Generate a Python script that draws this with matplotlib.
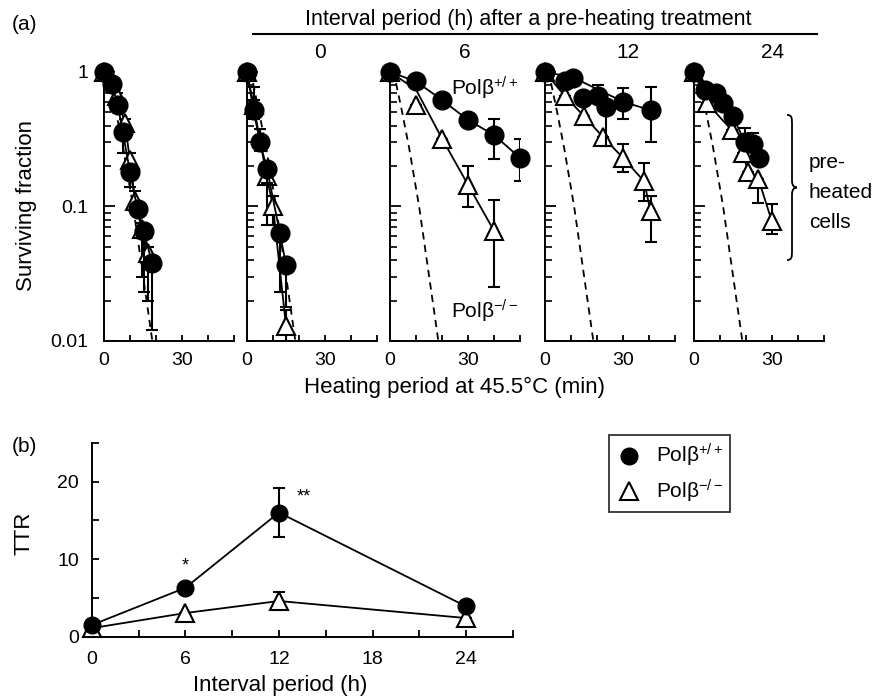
import numpy as np
import matplotlib
matplotlib.use("Agg")
import matplotlib.pyplot as plt
from matplotlib.lines import Line2D
from matplotlib.path import Path
from matplotlib.patches import PathPatch

plt.rcParams["font.family"] = ["Liberation Sans", "DejaVu Sans"]
plt.rcParams["mathtext.fontset"] = "custom"
plt.rcParams["mathtext.rm"] = "Liberation Sans"
plt.rcParams["mathtext.it"] = "Liberation Sans"
plt.rcParams["font.size"] = 14

W, H = 891, 699

# ---- panel (a): surviving fraction vs heating time (min), 5 sub-panels
panel_titles = ["", "0", "6", "12", "24"]

# Polb +/+ (filled circles)
wt_min = [
    [0, 3, 5.3, 7.2, 10, 12.9, 15.2, 18.5],
    [0, 2.5, 5, 7.7, 12.6, 15],
    [0, 10, 20, 30, 40, 50],
    [0, 7.7, 10.9, 14.7, 20.5, 23.5, 30.1, 40.6],
    [0, 4.2, 8.5, 11, 14.9, 19.6, 22.8, 25.1],
]
wt_sf = [
    [1, 0.82, 0.57, 0.36, 0.18, 0.095, 0.066, 0.038],
    [1, 0.52, 0.30, 0.19, 0.064, 0.037],
    [1, 0.85, 0.62, 0.44, 0.34, 0.23],
    [1, 0.86, 0.91, 0.645, 0.66, 0.55, 0.60, 0.52],
    [1, 0.74, 0.70, 0.59, 0.47, 0.30, 0.29, 0.23],
]
wt_lo = [
    [1, 0.82, 0.57, 0.25, 0.14, 0.095, 0.023, 0.012],
    [1, 0.45, 0.26, 0.15, 0.023, 0.018],
    [1, 0.85, 0.62, 0.44, 0.226, 0.154],
    [1, 0.86, 0.91, 0.645, 0.66, 0.28, 0.45, 0.30],
    [1, 0.74, 0.70, 0.59, 0.47, 0.30, 0.29, 0.23],
]
wt_hi = [
    [1, 0.85, 0.60, 0.40, 0.20, 0.10, 0.07, 0.04],
    [1, 0.78, 0.38, 0.21, 0.07, 0.04],
    [1, 0.85, 0.62, 0.44, 0.45, 0.32],
    [1, 0.86, 0.91, 0.645, 0.80, 0.55, 0.76, 0.78],
    [1, 0.74, 0.70, 0.59, 0.47, 0.385, 0.35, 0.23],
]

# Polb -/- (open triangles)
ko_min = [
    [0, 5, 8, 10, 12, 14.5, 17],
    [0, 2.5, 7.5, 10, 15],
    [0, 10, 20, 30, 40],
    [0, 7.7, 15, 22.2, 30, 38.1, 40.6],
    [0, 4.9, 14.5, 18.7, 20.9, 24.8, 29.9],
]
ko_sf = [
    [1, 0.66, 0.42, 0.22, 0.11, 0.068, 0.045],
    [1, 0.57, 0.17, 0.10, 0.013],
    [1, 0.57, 0.32, 0.145, 0.066],
    [1, 0.66, 0.47, 0.33, 0.23, 0.154, 0.092],
    [1, 0.59, 0.37, 0.25, 0.18, 0.16, 0.078],
]
ko_lo = [
    [1, 0.60, 0.38, 0.20, 0.10, 0.03, 0.02],
    [1, 0.50, 0.073, 0.073, 0.010],
    [1, 0.57, 0.32, 0.099, 0.025],
    [1, 0.66, 0.42, 0.30, 0.18, 0.11, 0.054],
    [1, 0.59, 0.37, 0.25, 0.18, 0.107, 0.062],
]
ko_hi = [
    [1, 0.70, 0.45, 0.25, 0.13, 0.075, 0.05],
    [1, 0.62, 0.19, 0.12, 0.017],
    [1, 0.57, 0.32, 0.199, 0.112],
    [1, 0.66, 0.47, 0.33, 0.29, 0.21, 0.12],
    [1, 0.59, 0.42, 0.30, 0.18, 0.16, 0.105],
]

# fitted lines that don't simply join the points
wt_fit = {3: ([0, 10.9, 30.1, 40.6], [1, 0.91, 0.60, 0.52])}
ko_fit = {2: ([0, 10, 20, 30, 40], [1, 0.74, 0.32, 0.145, 0.066])}

# dashed reference curve (non-preheated Polb -/-)
ctrl_min = [0, 2.3, 4.7, 7.4, 11.2, 18.6]
ctrl_sf = [1, 0.83, 0.5, 0.27, 0.1, 0.01]

# ---- panel (b): TTR vs interval period
interval_h = [0, 6, 12, 24]
ttr_wt = [1.5, 6.3, 16.0, 3.9]
ttr_wt_err = [0, 0, 3.2, 0]
ttr_ko = [1.1, 3.05, 4.6, 2.4]
ttr_ko_err = [0, 0, 1.2, 0]


def fx(px):
    return px / W


def fy(py):
    return 1 - py / H


fig = plt.figure(figsize=(W / 100, H / 100), dpi=100)

lefts = [104, 247, 390, 545, 694]
title_x = [0, 320, 465, 628, 773]
a_bottom, a_top = 341, 72

for i, left in enumerate(lefts):
    ax = fig.add_axes([fx(left), fy(a_bottom), 130 / W, (a_bottom - a_top) / H])
    ax.set_yscale("log")
    ax.set_ylim(0.01, 1.0)
    ax.set_xlim(0, 50)
    ax.spines["top"].set_visible(False)
    ax.spines["right"].set_visible(False)
    for s in ["left", "bottom"]:
        ax.spines[s].set_linewidth(1.4)
    ax.set_xticks([0, 10, 20, 30, 40, 50])
    ax.set_xticklabels(["0", "", "", "30", "", ""])
    ax.tick_params(axis="x", direction="in", length=4, width=1.3, pad=8)
    ax.tick_params(axis="y", which="major", direction="in", length=8, width=1.3, pad=11)
    ax.tick_params(axis="y", which="minor", direction="in", length=5, width=1.2)
    ax.set_yticks([0.01, 0.1, 1])
    if i == 0:
        ax.set_yticklabels(["0.01", "0.1", "1"])
    else:
        ax.set_yticklabels([])

    ax.plot(ctrl_min, ctrl_sf, color="black", lw=1.3, ls=(0, (4, 3)), zorder=2)

    # Polb -/-
    t, v = ko_min[i], ko_sf[i]
    lt, lv = ko_fit.get(i, (t, v))
    ax.plot(lt, lv, color="black", lw=1.3, zorder=3)
    yerr = [np.array(v) - np.array(ko_lo[i]), np.array(ko_hi[i]) - np.array(v)]
    ax.errorbar(t, v, yerr=yerr, fmt="none", ecolor="black", elinewidth=1.5,
                capsize=4, capthick=1.5, zorder=3)
    ax.plot(t, v, ls="none", marker="^", ms=13, mfc="white", mec="black",
            mew=1.5, zorder=4, clip_on=False)

    # Polb +/+
    t, v = wt_min[i], wt_sf[i]
    lt, lv = wt_fit.get(i, (t, v))
    ax.plot(lt, lv, color="black", lw=1.3, zorder=5)
    yerr = [np.array(v) - np.array(wt_lo[i]), np.array(wt_hi[i]) - np.array(v)]
    ax.errorbar(t, v, yerr=yerr, fmt="none", ecolor="black", elinewidth=1.5,
                capsize=4, capthick=1.5, zorder=5)
    ax.plot(t, v, ls="none", marker="o", ms=13.5, mfc="black", mec="black",
            zorder=6, clip_on=False)

    if panel_titles[i]:
        fig.text(fx(title_x[i]), fy(53), panel_titles[i], ha="center", va="center",
                 fontsize=15)

    if i == 2:
        ax.text(0.47, 0.94, "Polβ$^{+/+}$", transform=ax.transAxes,
                ha="left", va="center", fontsize=15)
        ax.text(0.47, 0.11, "Polβ$^{\u2212/\u2212}$", transform=ax.transAxes,
                ha="left", va="center", fontsize=15)

fig.text(fx(12), fy(25), "(a)", ha="left", va="center", fontsize=15)
fig.text(fx(528), fy(20), "Interval period (h) after a pre-heating treatment",
         ha="center", va="center", fontsize=15.5)
fig.add_artist(Line2D([fx(253), fx(817)], [fy(34), fy(34)], color="black",
                      lw=1.5, transform=fig.transFigure))
fig.text(fx(27), fy(205), "Surviving fraction", rotation=90, ha="center",
         va="center", fontsize=16)
fig.text(fx(455), fy(387), "Heating period at 45.5°C (min)", ha="center",
         va="center", fontsize=16)

# curly brace + label
bx, btop, bbot, bw = 787, 115, 260, 10
bmid = (btop + bbot) / 2
pts = [
    (bx, btop), (bx + bw / 2, btop), (bx + bw / 2, btop + 3), (bx + bw / 2, btop + 10),
    (bx + bw / 2, bmid - 7),
    (bx + bw / 2, bmid - 2), (bx + bw / 2 + 2, bmid), (bx + bw, bmid),
    (bx + bw / 2 + 2, bmid), (bx + bw / 2, bmid + 2), (bx + bw / 2, bmid + 7),
    (bx + bw / 2, bbot - 10),
    (bx + bw / 2, bbot - 3), (bx + bw / 2, bbot), (bx, bbot),
]
codes = [Path.MOVETO, Path.CURVE4, Path.CURVE4, Path.CURVE4, Path.LINETO,
         Path.CURVE4, Path.CURVE4, Path.CURVE4, Path.CURVE4, Path.CURVE4, Path.CURVE4,
         Path.LINETO, Path.CURVE4, Path.CURVE4, Path.CURVE4]
brace = Path([(fx(x), fy(y)) for x, y in pts], codes)
fig.add_artist(PathPatch(brace, fc="none", ec="black", lw=1.3,
                         transform=fig.transFigure))
for txt, yy in [("pre-", 162), ("heated", 193), ("cells", 223)]:
    fig.text(fx(809), fy(yy), txt, ha="left", va="center", fontsize=15)

# ---- panel (b)
axb = fig.add_axes([fx(91.7), fy(636.7), (513 - 91.7) / W, (636.7 - 442.7) / H])
axb.spines["top"].set_visible(False)
axb.spines["right"].set_visible(False)
for s in ["left", "bottom"]:
    axb.spines[s].set_linewidth(1.4)
axb.set_xlim(0, 27)
axb.set_ylim(0, 25)
axb.set_xticks(np.arange(0, 28, 3))
axb.set_xticklabels(["0", "", "6", "", "12", "", "18", "", "24", ""])
axb.set_yticks([0, 5, 10, 15, 20, 25])
axb.set_yticklabels(["0", "", "10", "", "20", ""])
axb.tick_params(axis="x", direction="in", length=5, width=1.3, pad=10)
axb.tick_params(axis="y", direction="in", length=5, width=1.3, pad=9)
fig.text(fx(24), fy(533), "TTR", rotation=90, ha="center", va="center",
         fontsize=16)
fig.text(fx(280), fy(686), "Interval period (h)", ha="center", va="center",
         fontsize=16)

axb.plot(interval_h, ttr_ko, color="black", lw=1.3, zorder=3)
axb.errorbar(interval_h, ttr_ko, yerr=ttr_ko_err, fmt="none", ecolor="black",
             elinewidth=1.5, capsize=4, capthick=1.5, zorder=3)
h_ko, = axb.plot(interval_h, ttr_ko, ls="none", marker="^", ms=13, mfc="white",
                 mec="black", mew=1.5, zorder=4, clip_on=False)
axb.plot(interval_h, ttr_wt, color="black", lw=1.3, zorder=5)
axb.errorbar(interval_h, ttr_wt, yerr=ttr_wt_err, fmt="none", ecolor="black",
             elinewidth=1.5, capsize=4, capthick=1.5, zorder=5)
h_wt, = axb.plot(interval_h, ttr_wt, ls="none", marker="o", ms=12, mfc="black",
                 mec="black", zorder=6, clip_on=False)

axb.text(6, 9.1, "*", ha="center", va="center", fontsize=13)
axb.text(13.6, 18.0, "**", ha="center", va="center", fontsize=13)
fig.text(fx(12), fy(447), "(b)", ha="left", va="center", fontsize=15)

leg = axb.legend([h_wt, h_ko], ["Polβ$^{+/+}$", "Polβ$^{\u2212/\u2212}$"],
                 loc="upper left", bbox_to_anchor=(fx(609), fy(435)),
                 bbox_transform=fig.transFigure, frameon=True, fancybox=False,
                 edgecolor="black", handlelength=1.2, handletextpad=0.7,
                 borderpad=0.35, labelspacing=0.4, borderaxespad=0, fontsize=15)
leg.get_frame().set_linewidth(1.3)

fig.savefig("out.png", dpi=100)
